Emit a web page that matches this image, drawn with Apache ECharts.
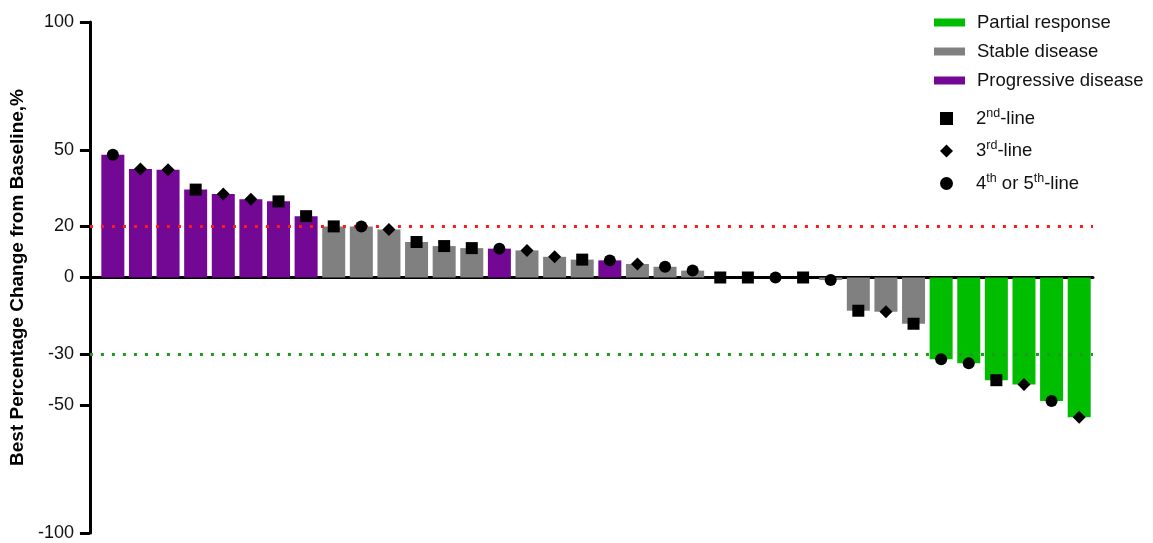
<!DOCTYPE html>
<html>
<head>
<meta charset="utf-8">
<script src="https://cdn.jsdelivr.net/npm/echarts@6/dist/echarts.min.js"></script>
<style>
  html, body { margin: 0; padding: 0; background: #fff; }
  #chart { width: 1153px; height: 543px; }
</style>
</head>
<body>
<div id="chart"></div>
<script>
// Best percentage change from baseline per patient, sorted high to low
const changes = [48, 42.5, 42.2, 34.4, 32.7, 30.6, 29.8, 24, 20, 20, 18.8, 13.9,
  12.3, 11.5, 11.3, 10.6, 8.1, 7, 6.7, 5.3, 4.2, 2.7, 0, 0,
  0, 0, -1, -13, -13.4, -18.1, -32, -33.6, -40.2, -41.9, -48.3, -54.7];

// Best overall response: PR = partial response, SD = stable disease, PD = progressive disease
const responses = ['PD', 'PD', 'PD', 'PD', 'PD', 'PD', 'PD', 'PD', 'SD', 'SD', 'SD', 'SD',
  'SD', 'SD', 'PD', 'SD', 'SD', 'SD', 'PD', 'SD', 'SD', 'SD', 'SD', 'SD',
  'SD', 'SD', 'SD', 'SD', 'SD', 'SD', 'PR', 'PR', 'PR', 'PR', 'PR', 'PR'];

// Treatment line: 2 = 2nd-line, 3 = 3rd-line, 4 = 4th or 5th-line
const treatmentLines = [4, 3, 3, 2, 3, 3, 2, 2, 2, 4, 3, 2,
  2, 2, 4, 3, 3, 2, 4, 3, 4, 4, 2, 2,
  4, 2, 4, 2, 3, 2, 4, 4, 2, 3, 4, 3];

const yTicks = [100, 50, 20, 0, -30, -50, -100];
const thresholds = { progression: 20, response: -30 };

const responseGroups = [
  { key: 'PR', name: 'Partial response', color: '#00bd00' },
  { key: 'SD', name: 'Stable disease', color: '#808080' },
  { key: 'PD', name: 'Progressive disease', color: '#720893' }
];
const lineGroups = [
  { key: 2, name: '2nd-line', symbol: 'rect', size: 12, label: '{b|2}{s|nd}{b|-line}' },
  { key: 3, name: '3rd-line', symbol: 'diamond', size: 13, label: '{b|3}{s|rd}{b|-line}' },
  { key: 4, name: '4th or 5th-line', symbol: 'circle', size: 12, label: '{b|4}{s|th}{b| or 5}{s|th}{b|-line}' }
];

const FONT = '"Liberation Sans", Arial, sans-serif';

const barSeries = responseGroups.map((g, gi) => {
  const s = {
    name: g.name,
    type: 'bar',
    barWidth: 23,
    barGap: '-100%',
    itemStyle: { color: g.color },
    data: changes.map((v, i) => [i, v]).filter((d, i) => responses[i] === g.key),
    z: 2
  };
  if (gi === 0) {
    // reference lines at +20% (progression) and -30% (response)
    s.markLine = {
      silent: true,
      symbol: 'none',
      label: { show: false },
      data: [
        { yAxis: thresholds.progression, lineStyle: { color: '#ff1a1a', width: 3, type: [3, 8] } },
        { yAxis: thresholds.response, lineStyle: { color: '#1f9a1f', width: 3, type: [3, 8] } }
      ]
    };
  }
  return s;
});

const markerSeries = lineGroups.map(g => ({
  name: g.name,
  type: 'scatter',
  symbol: g.symbol,
  symbolSize: g.size,
  itemStyle: { color: '#000', opacity: 1 },
  data: changes.map((v, i) => [i, v]).filter((d, i) => treatmentLines[i] === g.key),
  z: 5
}));

const chart = echarts.init(document.getElementById('chart'), null, { renderer: 'canvas' });
chart.setOption({
  animation: false,
  backgroundColor: '#fff',
  grid: { left: 89, right: 60, top: 22, bottom: 10 },
  xAxis: {
    type: 'value',
    min: -0.83,
    max: 35.5,
    axisLine: { show: true, onZero: true, lineStyle: { color: '#000', width: 3 } },
    axisTick: { show: false },
    axisLabel: { show: false },
    splitLine: { show: false }
  },
  yAxis: {
    type: 'value',
    min: -100,
    max: 100,
    name: 'Best Percentage Change from Baseline,%',
    nameLocation: 'middle',
    nameGap: 58,
    nameTextStyle: { fontFamily: FONT, fontSize: 19, fontWeight: 'bold', color: '#000' },
    axisLine: { show: true, onZero: false, lineStyle: { color: '#000', width: 3 } },
    axisTick: { show: true, customValues: yTicks, length: 10, lineStyle: { color: '#000', width: 3 } },
    axisLabel: { customValues: yTicks, margin: 16, fontFamily: FONT, fontSize: 18, color: '#111' },
    splitLine: { show: false }
  },
  legend: [
    {
      orient: 'vertical',
      left: 929,
      top: 8,
      itemWidth: 31,
      itemHeight: 8,
      itemGap: 10,
      icon: 'rect',
      data: responseGroups.map(g => g.name),
      textStyle: { fontFamily: FONT, fontSize: 18.5, color: '#111', padding: [0, 0, 0, 7] }
    },
    {
      orient: 'vertical',
      left: 935,
      top: 102,
      itemWidth: 13,
      itemHeight: 13,
      itemGap: 11.5,
      data: lineGroups.map(g => ({ name: g.name, icon: g.symbol, itemStyle: { opacity: 1 } })),
      formatter: name => lineGroups.find(g => g.name === name).label,
      textStyle: {
        fontFamily: FONT,
        color: '#111',
        padding: [0, 0, 0, 18],
        rich: {
          b: { fontFamily: FONT, fontSize: 18.5, color: '#111', lineHeight: 23 },
          s: { fontFamily: FONT, fontSize: 12.5, color: '#111', lineHeight: 11, verticalAlign: 'top' }
        }
      }
    }
  ],
  series: barSeries.concat(markerSeries)
});
</script>
</body>
</html>
